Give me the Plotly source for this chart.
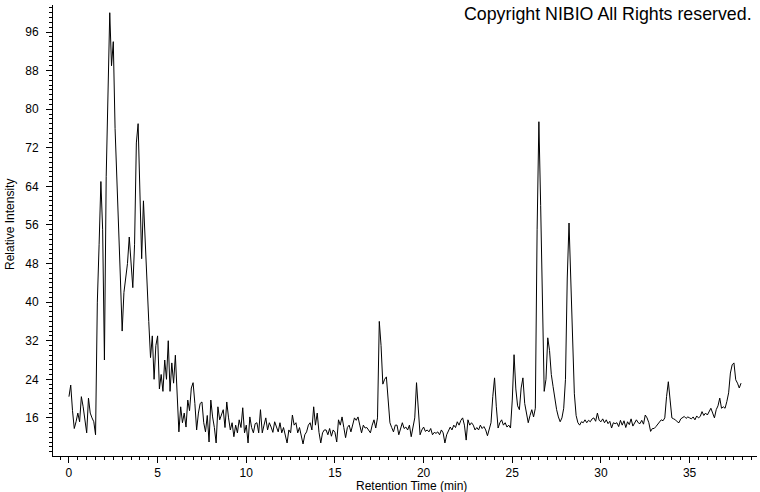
import plotly.graph_objects as go

# Chromatogram sampled every 0.1 min starting at 0 min
time_start = 0.0
time_step = 0.1
intensity = [
    20.4, 22.8, 17.5, 13.8, 15.2, 17.0, 15.2, 20.4, 18.3, 15.6,   # 0
    12.9, 20.1, 17.0, 16.0, 15.2, 12.5, 40.0, 52.0, 65.0, 55.0,   # 1
    28.0, 66.0, 84.0, 100.0, 89.0, 94.0, 76.0, 66.0, 59.0, 45.0,  # 2
    34.0, 42.0, 45.0, 48.0, 53.5, 48.0, 43.0, 52.0, 73.0, 77.0,   # 3
    61.0, 49.0, 61.0, 52.0, 42.0, 36.0, 28.5, 33.0, 24.0, 31.0,   # 4
    33.0, 22.0, 25.0, 21.5, 28.0, 24.0, 32.0, 21.5, 27.4, 23.2,   # 5
    29.0, 19.7, 13.1, 18.3, 15.0, 17.0, 14.1, 19.7, 17.5, 22.2,   # 6
    23.3, 19.0, 13.5, 17.0, 19.0, 19.3, 15.0, 13.1, 16.5, 11.0,   # 7
    19.7, 16.2, 14.0, 10.8, 18.3, 15.6, 16.5, 17.7, 14.0, 19.3,   # 8
    16.0, 13.5, 15.0, 12.1, 14.5, 12.9, 15.6, 14.0, 18.1, 12.9,   # 9
    14.5, 10.8, 16.2, 14.0, 12.9, 14.8, 15.0, 12.9, 17.7, 12.9,   # 10
    14.5, 16.0, 13.5, 15.0, 14.1, 13.0, 15.2, 14.0, 13.1, 15.0,   # 11
    12.9, 14.0, 12.1, 10.8, 13.5, 12.9, 16.6, 14.5, 15.0, 12.9,   # 12
    14.0, 12.5, 10.6, 12.5, 13.1, 14.5, 15.0, 13.5, 18.3, 14.5,   # 13
    17.0, 13.0, 10.8, 12.9, 13.5, 13.5, 12.5, 13.8, 12.2, 13.5,   # 14
    13.0, 11.0, 15.6, 14.5, 16.2, 14.0, 11.9, 14.0, 14.5, 13.1,   # 15
    14.5, 16.0, 15.5, 16.2, 14.5, 12.9, 14.5, 13.9, 14.0, 13.5,   # 16
    12.9, 14.5, 15.6, 13.9, 16.0, 36.0, 31.0, 23.0, 24.0, 24.5,   # 17
    18.5, 15.0, 14.0, 13.1, 14.5, 14.5, 12.5, 14.0, 15.0, 13.8,   # 18
    14.1, 13.5, 14.5, 12.1, 14.0, 16.0, 23.3, 17.7, 12.5, 13.5,   # 19
    14.1, 13.2, 13.5, 13.1, 13.8, 12.5, 13.0, 12.8, 13.1, 12.5,   # 20
    13.5, 12.9, 10.8, 12.5, 13.5, 14.1, 13.5, 14.5, 14.0, 15.2,   # 21
    14.5, 15.5, 16.0, 14.5, 11.4, 15.6, 14.5, 15.0, 14.5, 13.5,   # 22
    14.0, 13.5, 14.5, 13.8, 14.2, 13.5, 12.3, 14.0, 15.0, 20.4,   # 23
    24.3, 18.3, 13.9, 15.0, 15.6, 14.5, 15.0, 14.1, 14.5, 13.9,   # 24
    19.7, 29.1, 22.0, 18.5, 17.7, 22.2, 24.3, 19.0, 16.6, 15.0,   # 25
    16.5, 17.7, 16.2, 18.0, 55.0, 77.4, 60.0, 36.0, 21.5, 24.0,   # 26
    32.6, 30.0, 25.0, 22.5, 20.0, 17.7, 16.2, 15.2, 16.0, 18.0,   # 27
    24.0, 45.0, 56.4, 46.0, 33.0, 21.0, 16.5, 15.0, 14.5, 15.2,   # 28
    15.0, 15.6, 15.0, 15.5, 15.2, 15.8, 16.0, 15.3, 17.0, 15.5,   # 29
    15.2, 15.8, 15.0, 15.6, 14.8, 15.3, 13.9, 15.0, 14.8, 15.0,   # 30
    14.2, 15.5, 14.5, 15.4, 14.0, 15.2, 14.6, 15.8, 14.3, 15.0,   # 31
    15.6, 15.0, 14.8, 15.5, 14.7, 16.6, 16.0, 15.0, 13.2, 13.8,   # 32
    13.8, 14.2, 14.6, 15.1, 15.6, 15.4, 16.0, 20.4, 23.5, 19.7,   # 33
    16.0, 15.8, 15.6, 15.2, 15.0, 15.8, 16.0, 16.3, 15.9, 16.2,   # 34
    16.0, 15.8, 16.2, 15.6, 16.4, 16.0, 16.3, 17.3, 16.5, 17.0,   # 35
    16.6, 17.5, 18.0, 17.0, 16.0, 17.7, 18.5, 20.1, 18.0, 18.3,   # 36
    18.0, 19.4, 21.2, 25.3, 27.0, 27.4, 23.9, 23.2, 22.2, 23.2,   # 37
]

x_title = "Retention Time (min)"
y_title = "Relative Intensity"
copyright_text = "Copyright NIBIO All Rights reserved."

FONT = "Liberation Sans, Arial, sans-serif"

fig = go.Figure()
fig.add_trace(go.Scatter(
    y=intensity, x0=time_start, dx=time_step,
    mode="lines", line=dict(color="black", width=1),
    hoverinfo="skip", showlegend=False,
))

fig.update_layout(
    width=760, height=492,
    margin=dict(l=53, r=3, t=5, b=36),
    paper_bgcolor="white", plot_bgcolor="white",
    font=dict(family=FONT, size=12, color="black"),
    showlegend=False,
    hovermode=False,
    xaxis=dict(
        range=[-0.9, 38.8], showgrid=False, zeroline=False,
        showline=True, linecolor="black", linewidth=1,
        ticks="outside", ticklen=6, tickcolor="black", tickwidth=1,
        tick0=0, dtick=5, tickfont=dict(size=12, family=FONT),
        automargin=False,
        minor=dict(ticks="outside", ticklen=3, dtick=0.5, tick0=0,
                   tickcolor="black", showgrid=False),
    ),
    yaxis=dict(
        range=[8.1, 101.6], showgrid=False, zeroline=False,
        showline=True, linecolor="black", linewidth=1,
        ticks="outside", ticklen=6, tickcolor="black", tickwidth=1,
        tick0=0, dtick=8, tickfont=dict(size=12, family=FONT),
        ticklabelstandoff=5, automargin=False,
        minor=dict(ticks="outside", ticklen=3, dtick=1, tick0=0,
                   tickcolor="black", showgrid=False),
    ),
    annotations=[
        dict(text=x_title, xref="paper", yref="paper",
             x=(411 - 53) / 704, y=(456 - 486) / 451,
             xanchor="center", yanchor="middle", showarrow=False,
             font=dict(size=12, family=FONT)),
        dict(text=y_title, xref="paper", yref="paper",
             x=(10 - 53) / 704, y=(456 - 225) / 451, textangle=-90,
             xanchor="center", yanchor="middle", showarrow=False,
             font=dict(size=12, family=FONT)),
        dict(text=copyright_text, xref="paper", yref="paper",
             x=(754 - 53) / 704, y=(456 - 14) / 451,
             xanchor="right", yanchor="middle", showarrow=False,
             font=dict(size=17.8, family=FONT)),
    ],
)

fig.write_html("out.html", config={"displayModeBar": False, "staticPlot": True},
               post_script="document.body.style.margin='0px';")
